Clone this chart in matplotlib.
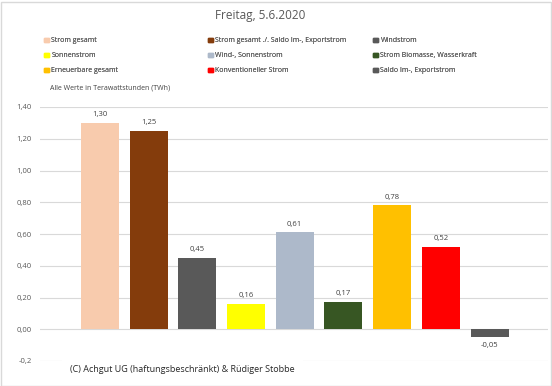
import numpy as np
import matplotlib.pyplot as plt
from matplotlib.patches import Patch

labels = ["Strom gesamt", "Strom gesamt ./. Saldo Im-, Exportstrom", "Windstrom",
          "Sonnenstrom", "Wind-, Sonnenstrom", "Strom Biomasse, Wasserkraft",
          "Erneuerbare gesamt", "Konventioneller Strom", "Saldo Im-, Exportstrom"]
values = [1.30, 1.25, 0.45, 0.16, 0.61, 0.17, 0.78, 0.52, -0.05]
colors = ["#F8CBAD", "#843C0C", "#595959", "#FFFF00", "#ADB9CA", "#375623",
          "#FFC000", "#FF0000", "#595959"]
yticks = [-0.2, 0.0, 0.2, 0.4, 0.6, 0.8, 1.0, 1.2, 1.4]


def fmt(v, nd=2):
    return f"{v:.{nd}f}".replace(".", ",")


def main():
    plt.rcParams['font.family'] = ['Open Sans', 'DejaVu Sans']
    fig = plt.figure(figsize=(5.52, 3.86), dpi=100)
    ax = fig.add_axes([40 / 552, 1 - 361 / 386, 508 / 552, 254 / 386])

    x = np.arange(len(values))
    ax.bar(x, values, width=0.78, color=colors, zorder=3)
    for xi, v in zip(x, values):
        if v >= 0:
            ax.text(xi, v + 0.03, fmt(v), ha='center', va='bottom', fontsize=5.5, color='#404040')
        else:
            ax.text(xi, v - 0.03, fmt(v), ha='center', va='top', fontsize=5.5, color='#404040')

    ax.set_xlim(-1.23, 9.2)
    ax.set_ylim(-0.2, 1.4)
    ax.set_yticks(yticks)
    ax.set_yticklabels([fmt(t, 1) if t == -0.2 else fmt(t) for t in yticks],
                       fontsize=5.5, color='#595959')
    ax.set_xticks([])
    ax.tick_params(axis='y', length=0, pad=6)
    ax.grid(axis='y', color='#D9D9D9', linewidth=0.8, zorder=0)
    for s in ax.spines.values():
        s.set_visible(False)

    fig.text(260 / 552, 1 - 15 / 386, "Freitag, 5.6.2020", ha='center', va='center',
             fontsize=8.5, color='#595959')
    fig.text(50 / 552, 1 - 88 / 386, "Alle Werte in Terawattstunden (TWh)", ha='left',
             va='center', fontsize=5, color='#404040')

    # legend: three columns, each its own legend so columns sit where they should
    col_x = [41, 205, 370]
    for c in range(3):
        idx = [c, c + 3, c + 6]
        leg = fig.legend([Patch(color=colors[i]) for i in idx], [labels[i] for i in idx],
                         loc='upper left', bbox_to_anchor=(col_x[c] / 552, 1 - 34 / 386),
                         frameon=False, fontsize=5, handlelength=0.7, handleheight=0.7,
                         handletextpad=0.3, labelspacing=1.15, labelcolor='#595959',
                         borderpad=0)
        fig.add_artist(leg)

    fig.text(70 / 552, 1 - 370 / 386, "(C) Achgut UG (haftungsbeschränkt) & Rüdiger Stobbe",
             ha='left', va='center', fontsize=6.5, color='#262626',
             bbox=dict(facecolor='white', edgecolor='none', pad=6))
    fig.patches.append(plt.Rectangle((0.5 / 552, 0.5 / 386), 550 / 552, 384 / 386,
                                     transform=fig.transFigure, fill=False,
                                     edgecolor='#D9D9D9', linewidth=1))

    plt.savefig("out.png")


if __name__ == "__main__":
    main()
